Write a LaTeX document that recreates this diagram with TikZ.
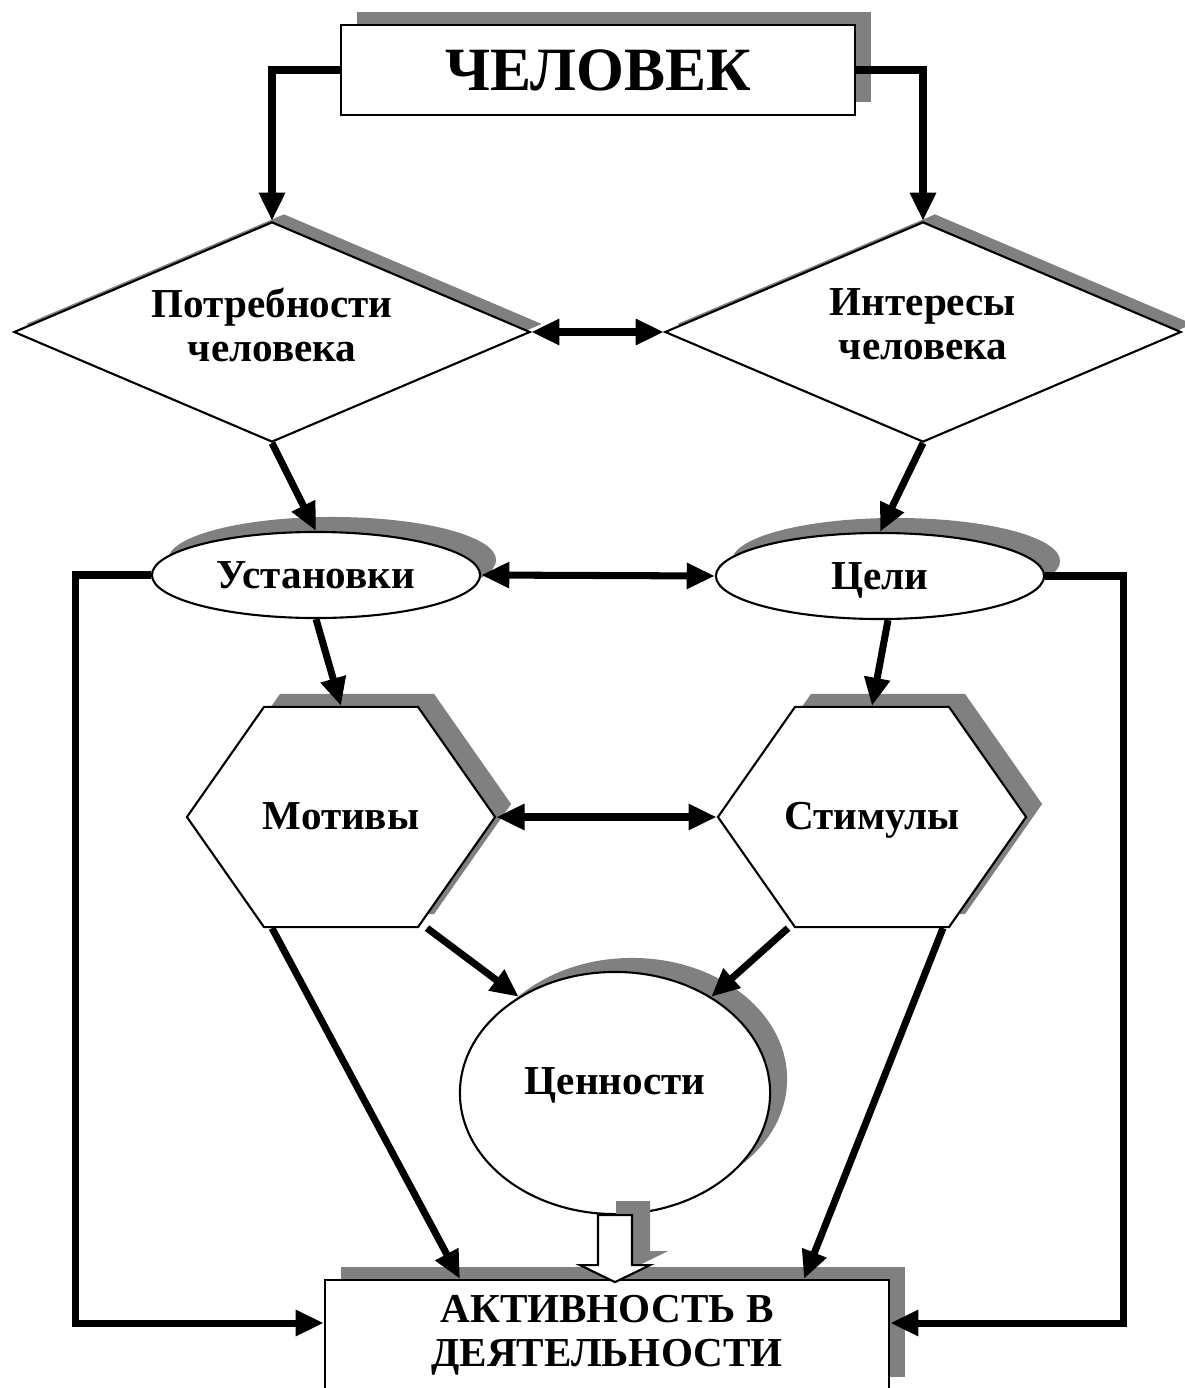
\documentclass[tikz,border=0pt]{standalone}
\usepackage{fontspec}
\setmainfont{Liberation Serif}
\usetikzlibrary{arrows.meta,shapes.geometric,shapes.symbols,shadows,calc}
\definecolor{shadowgray}{RGB}{128,128,128}

\begin{document}
\begin{tikzpicture}[x=0.01cm, y=-0.01cm,
        dropgray/.style 2 args={drop shadow={shadow xshift=#1, shadow yshift=#2, fill=shadowgray, opacity=1}},
        base/.style={draw, line width=.6pt, fill=white, inner sep=0pt, align=center,
            font=\bfseries\fontsize{11.7}{12.5}\selectfont},
        box/.style={base, rectangle, dropgray={.16cm}{.13cm}},
        dia/.style={base, diamond, aspect=2.35, minimum width=5.16cm, minimum height=2.2cm, dropgray={.12cm}{.08cm},
            text depth=.15cm},
        oval/.style={base, ellipse, minimum width=3.28cm, minimum height=.86cm, dropgray={.16cm}{.15cm},
            text height=.28cm, text depth=.02cm},
        hex/.style={base, signal, signal to=west and east, signal pointer angle=110, inner xsep=-.15cm,
            minimum width=3.08cm, minimum height=2.2cm, dropgray={.16cm}{.13cm},
            text height=.28cm, text depth=.04cm},
        link/.style={line width=2pt, -{Triangle[length=8pt,width=7pt]}},
        both/.style={line width=2pt, {Triangle[length=8pt,width=7pt]}-{Triangle[length=8pt,width=7pt]}}]

        \useasboundingbox (0,0) rectangle (1185,1388);

        \node(man) at (598,70) [box, minimum width=5.14cm, minimum height=.9cm,
            font=\bfseries\fontsize{17.5}{20}\selectfont] {ЧЕЛОВЕК};

        \node(pot) at (272,332) [dia] {Потребности\\человека};
        \node(int) at (923,332) [dia] {Интересы\\человека};

        \node(ust) at (316,575) [oval] {Установки};
        \node(cel) at (880,576) [oval] {Цели};

        \node(mot) at (341,817) [hex] {Мотивы};
        \node(stim) at (872,817) [hex] {Стимулы};

        \node(val) at (615,1093) [base, ellipse, minimum width=3.1cm, minimum height=2.42cm,
            text height=.28cm, text depth=.26cm, dropgray={.17cm}{.14cm}] {Ценности};

        \node(act) at (607,1335) [box, minimum width=5.64cm, minimum height=1.1cm] {АКТИВНОСТЬ В\\ДЕЯТЕЛЬНОСТИ};

        \draw[link] (man.west) -| (pot.north);
        \draw[link] (man.east) -| (int.north);
        \draw[both] (pot.east) -- (int.west);

        \draw[link] (pot.south) -- (ust.north);
        \draw[link] (int.south) -- (cel.north);
        \draw[both] (ust.east) -- (cel.west);

        \draw[link] (ust.south) -- (mot.north);
        \draw[link] ($(cel.south)+(8,0)$) -- (stim.north);
        \draw[both] (mot.east) -- (stim.west);

        \draw[link] ($(mot.south)+(86,0)$) -- (val.135);
        \draw[link] ($(stim.south)+(-84,0)$) -- (val.45);
        \draw[link] ($(mot.south)+(-69,0)$) -- ($(act.north)+(-147,0)$);
        \draw[link] ($(stim.south)+(71,0)$) -- ($(act.north)+(197,0)$);

        \draw[link] (ust.west) -- ++(-75,0) |- ($(act.west)+(0,-12)$);
        \draw[link] (cel.east) -- ++(78,0) |- ($(act.east)+(0,-12)$);

        % hollow arrow from values down to activity
        \coordinate(flow) at (val.south);
        \fill[shadowgray] ($(flow)+(1,-14)$) -- ++(0,50) -- ++(-18,0) -- ++(35,17)
            -- ++(35,-17) -- ++(-18,0) -- ++(0,-50) -- cycle;
        \draw[line width=.6pt, fill=white] ($(flow)+(-17,0)$) -- ++(0,50) -- ++(-18,0) -- ++(35,17)
            -- ++(35,-17) -- ++(-18,0) -- ++(0,-50) -- cycle;

    \end{tikzpicture}
\end{document}
